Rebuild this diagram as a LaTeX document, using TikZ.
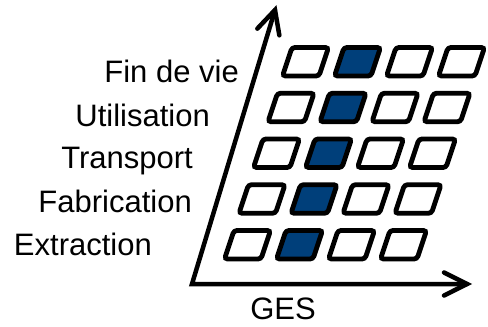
\documentclass[tikz,border=0pt]{standalone}
\usepackage{fontspec}
\setmainfont{Liberation Sans}
\usetikzlibrary{calc}
\definecolor{fillblue}{RGB}{0,63,122}
\begin{document}
\begin{tikzpicture}[x=1pt,y=1pt,
  axisline/.style={line width=4.5pt,black,line join=miter,line cap=round},
  cell/.style={line width=4.8pt,black,rounded corners=3pt,fill=white},
  cellfull/.style={cell,fill=fillblue},
  lbl/.style={font=\fontsize{31}{31}\selectfont,inner sep=0pt,anchor=base east}]
\useasboundingbox (0,0) rectangle (488,-327);
% axes
\coordinate (O) at (192,-284);
\coordinate (Ytip) at (275,-10);
\coordinate (Xtip) at (467,-284);
\draw[axisline] (Ytip) -- (O) -- (Xtip);
\draw[axisline] ($(Ytip)!25.7pt!26.6:(O)$) -- (Ytip) -- ($(Ytip)!25.7pt!-26.6:(O)$);
\draw[axisline] ($(Xtip)!25.7pt!26.6:(O)$) -- (Xtip) -- ($(Xtip)!25.7pt!-26.6:(O)$);
% cells
\foreach \r in {0,...,4}{
  \foreach \c in {0,...,3}{
    \pgfmathsetmacro{\tx}{292+\c*52-\r*14.5}
    \pgfmathsetmacro{\ty}{-(47.5+\r*45.75)}
    \ifnum\c=1
      \def\st{cellfull}
    \else
      \def\st{cell}
    \fi
    \draw[\st] (\tx,\ty) -- ++(36.5,0) -- ++(-9.5,-28.5) -- ++(-36.5,0) -- cycle;
  }
}
% labels
\node[lbl] (l1) at (239,-82) {Fin de vie};
\node[lbl] (l2) at (210,-126) {Utilisation};
\node[lbl] (l3) at (193,-168) {Transport};
\node[lbl] (l4) at (192,-212) {Fabrication};
\node[lbl] (l5) at (152,-255) {Extraction};
\node[lbl,anchor=base] (ges) at (283,-319) {GES};
\end{tikzpicture}
\end{document}
